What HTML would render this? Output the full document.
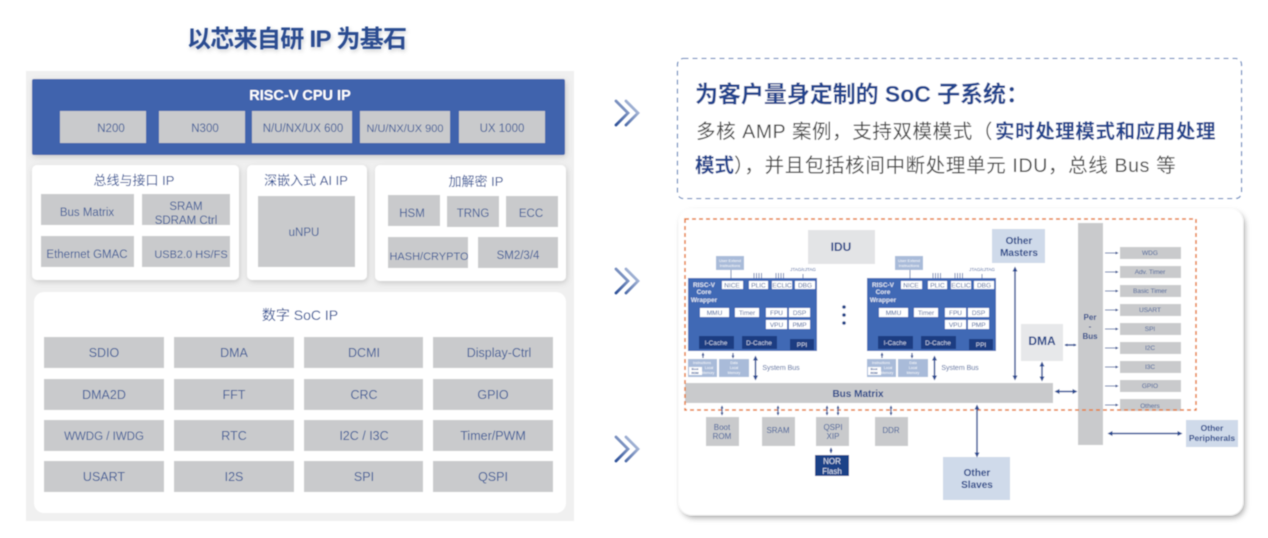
<!DOCTYPE html>
<html lang="zh"><head><meta charset="utf-8"><title>SoC IP</title>
<style>
html,body{margin:0;padding:0;background:#fff;width:1268px;height:538px;overflow:hidden}
svg{display:block}
text{font-family:"Liberation Sans","Noto Sans CJK SC",sans-serif;text-anchor:middle;fill:#3f5d98}
.t{fill:#c9cacc}
.s12 text{font-size:11.5px}
.d{fill:#1f4288;font-weight:700}
.ln{stroke:#2f5196;fill:none;stroke-width:1.2}
.ln2{stroke:#2f5196;fill:none;stroke-width:1.5}
.wh{fill:#fff}
.c{filter:url(#sh)}
</style></head><body>
<svg width="1268" height="538" viewBox="0 0 1268 538" xmlns="http://www.w3.org/2000/svg">
<defs>
<filter id="sh" x="-10%" y="-10%" width="120%" height="120%"><feDropShadow dx="1" dy="2" stdDeviation="3" flood-color="#000" flood-opacity=".16"/></filter>
<filter id="sh2" x="-5%" y="-5%" width="110%" height="110%"><feDropShadow dx="2" dy="3" stdDeviation="3" flood-color="#000" flood-opacity=".32"/></filter>
<filter id="ts" x="-5%" y="-20%" width="110%" height="150%"><feDropShadow dx="1" dy="2" stdDeviation="2" flood-color="#000" flood-opacity=".2"/></filter>
<filter id="bl" x="-2%" y="-2%" width="104%" height="104%"><feGaussianBlur stdDeviation=".4"/></filter>
<linearGradient id="cv" x1="0" y1="1" x2="1" y2="0"><stop offset="0" stop-color="#2c4f98"/><stop offset="1" stop-color="#c5d0e6"/></linearGradient>
<marker id="a" markerWidth="6" markerHeight="6" refX="3.5" refY="2.5" orient="auto-start-reverse" markerUnits="userSpaceOnUse"><path d="M0 0L5 2.5L0 5Z" fill="#2a4c92"/></marker>
<marker id="m" markerWidth="4" markerHeight="4" refX="2.5" refY="1.5" orient="auto-start-reverse" markerUnits="userSpaceOnUse"><path d="M0 0L3 1.5L0 3Z" fill="#2a4c92"/></marker>
</defs>
<g filter="url(#bl)">
<!-- left -->
<text x="297" y="47" filter="url(#ts)" style="font-size:24px;font-weight:700;fill:#2a4b90" textLength="220">以芯来自研 IP 为基石</text>
<rect x="26" y="71" width="548" height="450" fill="#f0f0f0"/>
<rect x="32" y="79" width="533" height="76" rx="2" fill="#3f64ad" filter="url(#sh)"/>
<text x="300" y="100" style="font-size:14.500px;font-weight:700;fill:#fff">RISC-V CPU IP</text>
<g class="s12">
<rect class="t" x="60" y="111" width="86" height="32"/><text x="111" y="132">N200</text>
<rect class="t" x="159" y="111" width="86" height="32"/><text x="205" y="132">N300</text>
<rect class="t" x="252" y="111" width="100" height="32"/><text x="303" y="132" style="font-size:11.500px">N/U/NX/UX 600</text>
<rect class="t" x="360" y="111" width="90" height="32"/><text x="405" y="132" style="font-size:11px">N/U/NX/UX 900</text>
<rect class="t" x="459" y="111" width="86" height="32"/><text x="502" y="132">UX 1000</text>
</g>
<rect class="wh c" x="32" y="165" width="207" height="115" rx="5"/>
<rect class="wh c" x="247" y="165" width="120" height="115" rx="5"/>
<rect class="wh c" x="375" y="165" width="191" height="116" rx="5"/>
<rect class="wh" x="34" y="292" width="532" height="221" rx="10"/>
<g>
<text x="134" y="185" style="font-size:13px;fill:#2f5196">总线与接口 IP</text>
<text x="306" y="185" style="font-size:13px;fill:#2f5196">深嵌入式 AI IP</text>
<text x="476" y="186" style="font-size:13px;fill:#2f5196">加解密 IP</text>
<text x="300" y="320" style="font-size:14px;fill:#2f5196">数字 SoC IP</text>
</g>
<g class="s12">
<rect class="t" x="41" y="194" width="93" height="31"/><text x="87" y="216">Bus Matrix</text>
<rect class="t" x="142" y="194" width="88" height="31"/><text x="186" y="210">SRAM</text><text x="186" y="224">SDRAM Ctrl</text>
<rect class="t" x="41" y="236" width="93" height="31"/><text x="87" y="258" style="font-size:11.500px">Ethernet GMAC</text>
<rect class="t" x="142" y="236" width="88" height="31"/><text x="191" y="258" style="font-size:11px">USB2.0 HS/FS</text>
<rect class="t" x="258" y="196" width="97" height="71"/><text x="304" y="236">uNPU</text>
<rect class="t" x="388" y="195" width="52" height="31"/><text x="412" y="217">HSM</text>
<rect class="t" x="447" y="196" width="52" height="31"/><text x="473" y="217">TRNG</text>
<rect class="t" x="506" y="196" width="52" height="31"/><text x="531" y="217">ECC</text>
<rect class="t" x="388" y="237" width="80" height="31"/><text x="429" y="260" style="font-size:11px">HASH/CRYPTO</text>
<rect class="t" x="478" y="237" width="80" height="31"/><text x="518" y="259">SM2/3/4</text>
</g>
<g style="font-size:12.500px">
<rect class="t" x="44" y="337" width="120" height="31"/><text x="104" y="357">SDIO</text>
<rect class="t" x="174" y="337" width="120" height="31"/><text x="234" y="357">DMA</text>
<rect class="t" x="304" y="337" width="119" height="31"/><text x="364" y="357">DCMI</text>
<rect class="t" x="433" y="337" width="120" height="31"/><text x="499" y="357">Display-Ctrl</text>
<rect class="t" x="44" y="379" width="120" height="31"/><text x="104" y="399">DMA2D</text>
<rect class="t" x="174" y="379" width="120" height="31"/><text x="234" y="399">FFT</text>
<rect class="t" x="304" y="379" width="119" height="31"/><text x="364" y="399">CRC</text>
<rect class="t" x="433" y="379" width="120" height="31"/><text x="493" y="399">GPIO</text>
<rect class="t" x="44" y="420" width="120" height="31"/><text x="104" y="440" style="font-size:11.500px">WWDG / IWDG</text>
<rect class="t" x="174" y="420" width="120" height="31"/><text x="234" y="440">RTC</text>
<rect class="t" x="304" y="420" width="119" height="31"/><text x="364" y="440">I2C / I3C</text>
<rect class="t" x="433" y="420" width="120" height="31"/><text x="493" y="440">Timer/PWM</text>
<rect class="t" x="44" y="461" width="120" height="31"/><text x="104" y="481">USART</text>
<rect class="t" x="174" y="461" width="120" height="31"/><text x="234" y="481">I2S</text>
<rect class="t" x="304" y="461" width="119" height="31"/><text x="364" y="481">SPI</text>
<rect class="t" x="433" y="461" width="120" height="31"/><text x="493" y="481">QSPI</text>
</g>
<!-- chevrons -->
<g fill="none" stroke="url(#cv)" stroke-width="2.800" stroke-linecap="round">
<path d="M616 101L628 113L616 125M626 101L638 113L626 125"/>
<path d="M616 269L628 281L616 293M626 269L638 281L626 293"/>
<path d="M616 437L628 449L616 461M626 437L638 449L626 461"/>
</g>
<!-- top-right -->
<rect x="677.500" y="58.500" width="564" height="140" rx="6" fill="#fff" stroke="#5f80b8" stroke-width="1.100" stroke-dasharray="5 4"/>
<text x="862" y="102" style="font-size:23px;font-weight:700;fill:#23458e" textLength="334">为客户量身定制的 SoC 子系统：</text>
<text x="696" y="138" style="font-size:19.500px;text-anchor:start;fill:#4a4a4a;letter-spacing:.6px">多核 AMP 案例，支持双模模式（<tspan x="995" style="font-weight:700;fill:#23458e;letter-spacing:.6px">实时处理模式和应用处理</tspan></text>
<text x="695" y="172" style="font-size:19.500px;text-anchor:start;font-weight:700;fill:#23458e">模式<tspan style="font-weight:400;fill:#4a4a4a;letter-spacing:.65px">），并且包括核间中断处理单元 IDU，总线 Bus 等</tspan></text>
<!-- diagram card -->
<rect x="679" y="209" width="564" height="306" rx="13" fill="#fff" filter="url(#sh2)"/>
<rect x="808" y="230" width="67" height="34" fill="#e3e4e6"/><text x="841" y="251" style="font-size:12px;font-weight:700;fill:#1f4288">IDU</text>
<rect x="992" y="229" width="53" height="34" fill="#cfdaea"/>
<text x="1019" y="244" class="d" style="font-size:10px">Other</text><text x="1019" y="256" class="d" style="font-size:10px">Masters</text>
<rect x="1021" y="324" width="42" height="37" fill="#e7e8ea"/><text x="1042" y="345" class="d" style="font-size:12px">DMA</text>
<rect class="t" x="685" y="383" width="368" height="20"/><text x="858" y="397" class="d" style="font-size:10px">Bus Matrix</text>
<rect class="t" x="1078" y="223" width="25" height="222"/>
<text x="1090" y="320" class="d" style="font-size:8px">Per</text><text x="1090" y="329" class="d" style="font-size:8px">-</text><text x="1090" y="339" class="d" style="font-size:8px">Bus</text>
<!-- wrappers -->
<g id="w1">
<rect x="716" y="256" width="28" height="14" fill="#a9bbd9"/><text x="730" y="262" style="font-size:4px;fill:#fff">User Extend</text><text x="730" y="267" style="font-size:4px;fill:#fff">Instructions</text>
<path d="M731 270V278M754 273V278M756.500 273V278M759 273V278M761.500 273V278M776 273V278M778.500 273V278M781 273V278M783.500 273V278M803 274V278" stroke="#2f5196" stroke-width=".7" fill="none"/>
<text x="803" y="271" style="font-size:4.500px;fill:#2f5196">JTAG/cJTAG</text>
<rect x="688" y="278" width="129" height="73" fill="#3f69b5"/>
<text x="704" y="287" style="font-size:6.500px;font-weight:700;fill:#dfe6f3">RISC-V</text><text x="704" y="294" style="font-size:6.500px;font-weight:700;fill:#dfe6f3">Core</text><text x="704" y="302" style="font-size:6.500px;font-weight:700;fill:#dfe6f3">Wrapper</text>
<g>
<rect class="wh" x="722" y="281" width="21" height="8"/><text x="732" y="287.500" style="font-size:6.500px">NICE</text>
<rect class="wh" x="749" y="281" width="19" height="8"/><text x="758.500" y="287.500" style="font-size:6.500px">PLIC</text>
<rect class="wh" x="772" y="281" width="20" height="8"/><text x="782" y="287.500" style="font-size:6.500px">ECLIC</text>
<rect class="wh" x="795" y="281" width="20" height="8"/><text x="805" y="287.500" style="font-size:6.500px">DBG</text>
<rect class="wh" x="700" y="308" width="29" height="9"/><text x="714.500" y="315" style="font-size:6.500px">MMU</text>
<rect class="wh" x="735" y="308" width="24" height="9"/><text x="747" y="315" style="font-size:6.500px">Timer</text>
<rect class="wh" x="766" y="308" width="21" height="9"/><text x="776.500" y="315" style="font-size:6.500px">FPU</text>
<rect class="wh" x="789" y="308" width="21" height="9"/><text x="799.500" y="315" style="font-size:6.500px">DSP</text>
<rect class="wh" x="766" y="320" width="21" height="9"/><text x="776.500" y="327" style="font-size:6.500px">VPU</text>
<rect class="wh" x="789" y="320" width="21" height="9"/><text x="799.500" y="327" style="font-size:6.500px">PMP</text>
</g>
<rect x="699" y="336" width="35" height="13" fill="#1d3c82"/><text x="716" y="345" style="font-size:6.500px;fill:#c7d3ea">I-Cache</text>
<rect x="742" y="336" width="35" height="13" fill="#1d3c82"/><text x="759" y="345" style="font-size:6.500px;fill:#c7d3ea">D-Cache</text>
<rect x="790" y="339" width="24" height="11" fill="#1d3c82"/><text x="802" y="347" style="font-size:6.500px;fill:#c7d3ea">PPI</text>
<path class="ln" d="M703 353V358M733 353V358" marker-start="url(#m)" marker-end="url(#m)"/>
<rect x="688" y="359" width="29" height="18" fill="#a9bbd9"/><text x="702" y="364" style="font-size:3.500px;fill:#fff">Instructions</text><text x="709" y="369" style="font-size:3.500px;fill:#fff">Local</text><text x="708" y="374" style="font-size:3.500px;fill:#fff">Memory</text>
<rect class="wh" x="689" y="367" width="13" height="8"/><text x="695" y="370" style="font-size:3px;fill:#1f4288;font-weight:700">Boot</text><text x="695" y="374" style="font-size:3px;fill:#1f4288;font-weight:700">ROM</text>
<rect x="719" y="359" width="30" height="18" fill="#a9bbd9"/><text x="734" y="364" style="font-size:3.500px;fill:#fff">Data</text><text x="734" y="369" style="font-size:3.500px;fill:#fff">Local</text><text x="734" y="374" style="font-size:3.500px;fill:#fff">Memory</text>
<path class="ln2" d="M755.500 357V379" marker-start="url(#a)" marker-end="url(#a)"/>
<text x="781" y="370" style="font-size:7px">System Bus</text>
</g>
<use href="#w1" x="179"/>
<!-- dots -->
<circle cx="844" cy="307" r="1.800" fill="#1f4288"/><circle cx="844" cy="315" r="1.800" fill="#1f4288"/><circle cx="844" cy="323" r="1.800" fill="#1f4288"/>
<!-- periph -->
<g>
<rect class="t" x="1120" y="247" width="61" height="12"/><text x="1150" y="255" style="font-size:6.500px">WDG</text>
<rect class="t" x="1120" y="266" width="61" height="12"/><text x="1150" y="274" style="font-size:6.500px">Adv. Timer</text>
<rect class="t" x="1120" y="285" width="61" height="12"/><text x="1150" y="293" style="font-size:6.500px">Basic Timer</text>
<rect class="t" x="1120" y="304" width="61" height="12"/><text x="1150" y="312" style="font-size:6.500px">USART</text>
<rect class="t" x="1120" y="323" width="61" height="12"/><text x="1150" y="331" style="font-size:6.500px">SPI</text>
<rect class="t" x="1120" y="342" width="61" height="12"/><text x="1150" y="350" style="font-size:6.500px">I2C</text>
<rect class="t" x="1120" y="361" width="61" height="12"/><text x="1150" y="369" style="font-size:6.500px">I3C</text>
<rect class="t" x="1120" y="380" width="61" height="12"/><text x="1150" y="388" style="font-size:6.500px">GPIO</text>
<rect class="t" x="1120" y="399" width="61" height="12"/><text x="1150" y="408" style="font-size:6.500px">Others</text>
<path class="ln" style="stroke-width:.8" marker-end="url(#m)" d="M1105 253H1118"/><path class="ln" style="stroke-width:.8" marker-end="url(#m)" d="M1105 272H1118"/><path class="ln" style="stroke-width:.8" marker-end="url(#m)" d="M1105 291H1118"/><path class="ln" style="stroke-width:.8" marker-end="url(#m)" d="M1105 310H1118"/><path class="ln" style="stroke-width:.8" marker-end="url(#m)" d="M1105 329H1118"/><path class="ln" style="stroke-width:.8" marker-end="url(#m)" d="M1105 348H1118"/><path class="ln" style="stroke-width:.8" marker-end="url(#m)" d="M1105 367H1118"/><path class="ln" style="stroke-width:.8" marker-end="url(#m)" d="M1105 386H1118"/><path class="ln" style="stroke-width:.8" marker-end="url(#m)" d="M1105 405H1118"/>
</g>
<!-- orange dashed -->
<rect x="685" y="219" width="511" height="191" fill="none" stroke="#e67a33" stroke-width="1.500" stroke-dasharray="4 3"/>
<!-- bottom tiles -->
<rect class="t" x="706" y="417" width="33" height="29"/><text x="722" y="430" style="font-size:8px">Boot</text><text x="722" y="439" style="font-size:8px">ROM</text>
<rect class="t" x="762" y="417" width="33" height="29"/><text x="778" y="433" style="font-size:8px">SRAM</text>
<rect class="t" x="816" y="417" width="33" height="29"/><text x="833" y="430" style="font-size:8px">QSPI</text><text x="833" y="439" style="font-size:8px">XIP</text>
<rect class="t" x="875" y="417" width="33" height="29"/><text x="891" y="433" style="font-size:8px">DDR</text>
<rect x="815" y="455" width="34" height="21" fill="#1f4288"/><text x="832" y="464" style="font-size:8px;fill:#dfe6f3">NOR</text><text x="832" y="474" style="font-size:8px;fill:#dfe6f3">Flash</text>
<rect x="943" y="457" width="67" height="43" fill="#cfdaea"/><text x="977" y="476" class="d" style="font-size:10px">Other</text><text x="977" y="488" class="d" style="font-size:10px">Slaves</text>
<rect x="1186" y="420" width="52" height="27" fill="#cfdaea"/><text x="1212" y="431" class="d" style="font-size:8.500px">Other</text><text x="1212" y="441" class="d" style="font-size:8.500px">Peripherals</text>
<!-- arrows -->
<path class="ln" d="M722 406V415" marker-start="url(#m)" marker-end="url(#m)"/>
<path class="ln" d="M778 406V415" marker-start="url(#m)" marker-end="url(#m)"/>
<path class="ln" d="M827 406V415" marker-start="url(#m)" marker-end="url(#m)"/>
<path class="ln" d="M838 406V415" marker-start="url(#m)" marker-end="url(#m)"/>
<path class="ln" d="M891 406V415" marker-start="url(#m)" marker-end="url(#m)"/>
<path class="ln" d="M831 448V453" marker-start="url(#m)" marker-end="url(#m)"/>
<path class="ln2" d="M977 406V456" marker-start="url(#a)" marker-end="url(#a)"/>
<path class="ln2" d="M1015 268V379" marker-start="url(#a)" marker-end="url(#a)"/>
<path class="ln2" d="M1042 363V380" marker-start="url(#a)" marker-end="url(#a)"/>
<path class="ln2" d="M1065 345H1076" marker-start="url(#m)" marker-end="url(#m)"/>
<path class="ln2" d="M1056 391.500H1076" marker-start="url(#a)" marker-end="url(#a)"/>
<path class="ln2" d="M1109 433.500H1181" marker-start="url(#a)" marker-end="url(#a)"/>
</g>
</svg>
</body></html>
